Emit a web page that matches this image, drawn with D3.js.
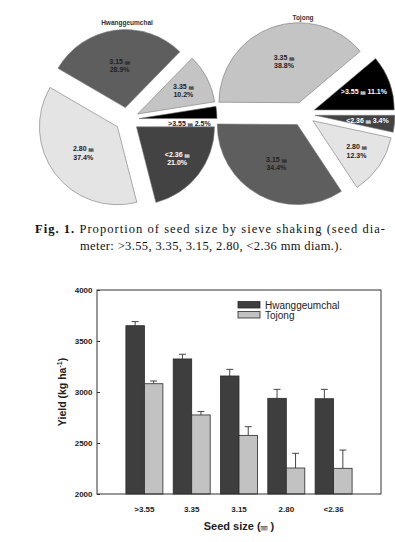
<!DOCTYPE html>
<html>
<head>
<meta charset="utf-8">
<script src="https://cdn.jsdelivr.net/npm/d3@7"></script>
<style>
  body { margin: 0; background: #fff; }
  svg { display: block; }
</style>
</head>
<body>
<div id="chart"></div>
<script>
// donnees
const sizes = [">3.55", "3.35", "3.15", "2.80", "<2.36"];
const hwangPct = [2.5, 10.2, 28.9, 37.4, 21.0];
const tojongPct = [11.1, 38.8, 34.4, 12.3, 3.4];

const seriesNames = ["Hwanggeumchal", "Tojong"];
const hwangYield = [3650, 3324, 3157, 2938, 2934];
const hwangErr = [40, 46, 65, 88, 92];
const tojongYield = [3081, 2775, 2575, 2255, 2252];
const tojongErr = [27, 33, 85, 144, 179];
const yTicks = [2000, 2500, 3000, 3500, 4000];

const W = 395, H = 542;
const svg = d3.select("#chart").append("svg")
    .attr("width", W)
    .attr("height", H)
    .style("font-family", "'Liberation Sans', Arial, sans-serif");

const sliceColor = d3.scaleOrdinal()
    .domain(sizes)
    .range(["#000000", "#c4c4c4", "#5e5e5e", "#e4e4e4", "#434343"]);

// camemberts (sens anti-horaire depuis l'est, comme SigmaPlot)
function drawPie(title, pcts, cx, cy, r, explode, titleY) {
    const pie = d3.pie()
        .sort(null)
        .value(d => d.p)
        .startAngle(Math.PI / 2)
        .endAngle(Math.PI / 2 - 2 * Math.PI);
    const arcs = pie(pcts.map((p, i) => ({ p: p, size: sizes[i] })));
    const arc = d3.arc().innerRadius(0).outerRadius(r);

    const g = svg.append("g").attr("transform", `translate(${cx},${cy})`);

    g.append("text")
        .text(title)
        .attr("x", 0)
        .attr("y", titleY - cy)
        .attr("text-anchor", "middle")
        .style("font-size", "6.5px")
        .style("font-weight", "bold")
        .style("fill", "#333");

    arcs.forEach(a => {
        const mid = (a.startAngle + a.endAngle) / 2;
        const dx = Math.sin(mid) * explode, dy = -Math.cos(mid) * explode;
        const fill = sliceColor(a.data.size);

        g.append("path")
            .attr("d", arc(a))
            .attr("transform", `translate(${dx},${dy})`)
            .attr("fill", fill)
            .attr("stroke", "#777")
            .attr("stroke-width", 0.6);

        // etiquettes
        let lx, ly, col;
        if (a.data.p < 3) {
            lx = 0.8 * r; ly = 4; col = "#222";
        } else {
            const L = (a.data.p >= 25 ? 0.55 : 0.66) * r + explode;
            lx = Math.sin(mid) * L; ly = -Math.cos(mid) * L;
            col = d3.hsl(fill).l < 0.35 ? "#fff" : "#222";
        }
        const oneLine = a.data.p < 5 || a.data.size === ">3.55";
        const t = g.append("text")
            .attr("text-anchor", "middle")
            .style("font-size", "7px")
            .style("font-weight", "bold")
            .style("fill", col);
        if (oneLine) {
            t.attr("x", lx).attr("y", ly + 2.5);
            t.append("tspan").text(a.data.size + " ");
            t.append("tspan").text("㎜").style("font-family", "'Noto Sans CJK KR'").style("font-size", "5px");
            t.append("tspan").text("  " + a.data.p.toFixed(1) + "%");
        } else {
            t.attr("x", lx).attr("y", ly - 1.5);
            t.append("tspan").text(a.data.size + " ");
            t.append("tspan").text("㎜").style("font-family", "'Noto Sans CJK KR'").style("font-size", "5px");
            t.append("tspan").attr("x", lx).attr("dy", 8.5).text(a.data.p.toFixed(1) + "%");
        }
    });
}

drawPie("Hwanggeumchal", hwangPct, 127, 119.5, 78, 12, 25);
drawPie("Tojong", tojongPct, 303, 114, 80, 12, 20);

// legende de la figure 1
const cap = svg.append("g").style("font-family", "'Liberation Serif', 'Times New Roman', serif")
    .style("font-size", "12.5px").style("fill", "#111");
const cap1 = cap.append("text")
    .attr("x", 35).attr("y", 232.5)
    .attr("textLength", 350).attr("lengthAdjust", "spacing");
cap1.append("tspan").text("Fig. 1.").style("font-weight", "bold");
cap1.append("tspan").text(" Proportion of seed size by sieve shaking (seed dia-");
cap.append("text")
    .attr("x", 80).attr("y", 249.5)
    .attr("textLength", 262).attr("lengthAdjust", "spacing")
    .text("meter: >3.55, 3.35, 3.15, 2.80, <2.36 mm diam.).");

// histogramme
const plot = { left: 97, right: 381, top: 290, bottom: 494 };

const x = d3.scaleBand()
    .domain(sizes)
    .range([plot.left, plot.right])
    .paddingInner(0.218)
    .paddingOuter(0.611);

const xSub = d3.scaleBand()
    .domain(seriesNames)
    .range([0, x.bandwidth()]);

const y = d3.scaleLinear()
    .domain([2000, 4000])
    .range([plot.bottom, plot.top]);

const barColor = d3.scaleOrdinal().domain(seriesNames).range(["#3e3e3e", "#c2c2c2"]);

const bars = [];
sizes.forEach((s, i) => {
    bars.push({ size: s, serie: seriesNames[0], v: hwangYield[i], e: hwangErr[i] });
    bars.push({ size: s, serie: seriesNames[1], v: tojongYield[i], e: tojongErr[i] });
});

const gb = svg.append("g");

// barres d'erreur (vers le haut)
gb.selectAll(".err")
    .data(bars)
    .enter()
    .append("g")
    .each(function (d) {
        const cxb = x(d.size) + xSub(d.serie) + xSub.bandwidth() / 2;
        const g = d3.select(this);
        g.append("line")
            .attr("x1", cxb).attr("x2", cxb)
            .attr("y1", y(d.v)).attr("y2", y(d.v + d.e))
            .attr("stroke", "#333").attr("stroke-width", 0.9);
        g.append("line")
            .attr("x1", cxb - 3.5).attr("x2", cxb + 3.5)
            .attr("y1", y(d.v + d.e)).attr("y2", y(d.v + d.e))
            .attr("stroke", "#333").attr("stroke-width", 0.9);
    });

gb.selectAll("rect.bar")
    .data(bars)
    .enter()
    .append("rect")
    .attr("class", "bar")
    .attr("x", d => x(d.size) + xSub(d.serie))
    .attr("y", d => y(d.v))
    .attr("width", xSub.bandwidth())
    .attr("height", d => y(2000) - y(d.v))
    .attr("fill", d => barColor(d.serie))
    .attr("stroke", "#2a2a2a")
    .attr("stroke-width", 0.8);

// cadre
svg.append("rect")
    .attr("x", plot.left).attr("y", plot.top)
    .attr("width", plot.right - plot.left).attr("height", plot.bottom - plot.top)
    .attr("fill", "none").attr("stroke", "#333").attr("stroke-width", 1);

// axe Y (graduations vers l'interieur)
const yAxis = svg.append("g")
    .attr("transform", `translate(${plot.left},0)`)
    .call(d3.axisRight(y).tickValues(yTicks).tickSize(3).tickFormat(d3.format("d")));
yAxis.select(".domain").remove();
yAxis.selectAll("line").attr("stroke", "#333");
yAxis.selectAll("text")
    .attr("x", -4.5)
    .attr("text-anchor", "end")
    .style("font-size", "8px")
    .style("font-weight", "bold")
    .style("font-family", "'Liberation Sans', Arial, sans-serif")
    .style("fill", "#222");

// axe X
const xAxis = svg.append("g")
    .attr("transform", `translate(0,${plot.bottom})`)
    .call(d3.axisBottom(x).tickSize(0).tickPadding(12));
xAxis.select(".domain").remove();
xAxis.selectAll("text")
    .style("font-size", "8px")
    .style("font-weight", "bold")
    .style("font-family", "'Liberation Sans', Arial, sans-serif")
    .style("fill", "#222");

// titres des axes
const xt = svg.append("text")
    .attr("x", 239).attr("y", 530)
    .attr("text-anchor", "middle")
    .style("font-size", "11px")
    .style("font-weight", "bold")
    .style("fill", "#222");
xt.append("tspan").text("Seed size (");
xt.append("tspan").text("㎜").style("font-family", "'Noto Sans CJK KR'").style("font-size", "7px").style("font-weight", "normal");
xt.append("tspan").text(" )");

const yt = svg.append("text")
    .attr("transform", `translate(66,${(plot.top + plot.bottom) / 2}) rotate(-90)`)
    .attr("text-anchor", "middle")
    .style("font-size", "10.5px")
    .style("font-weight", "bold")
    .style("fill", "#222");
yt.append("tspan").text("Yield (kg ha");
yt.append("tspan").text("-1").attr("dy", -4).style("font-size", "7px");
yt.append("tspan").text(")").attr("dy", 4);

// legende
const leg = svg.append("g");
seriesNames.forEach((n, i) => {
    leg.append("rect")
        .attr("x", 238).attr("y", 301.5 + i * 10)
        .attr("width", 22).attr("height", 6.5)
        .attr("fill", barColor(n))
        .attr("stroke", "#2a2a2a").attr("stroke-width", 0.8);
    leg.append("text")
        .text(n)
        .attr("x", 265).attr("y", 308.5 + i * 10)
        .style("font-size", "10px")
        .style("fill", "#222");
});
</script>
</body>
</html>
